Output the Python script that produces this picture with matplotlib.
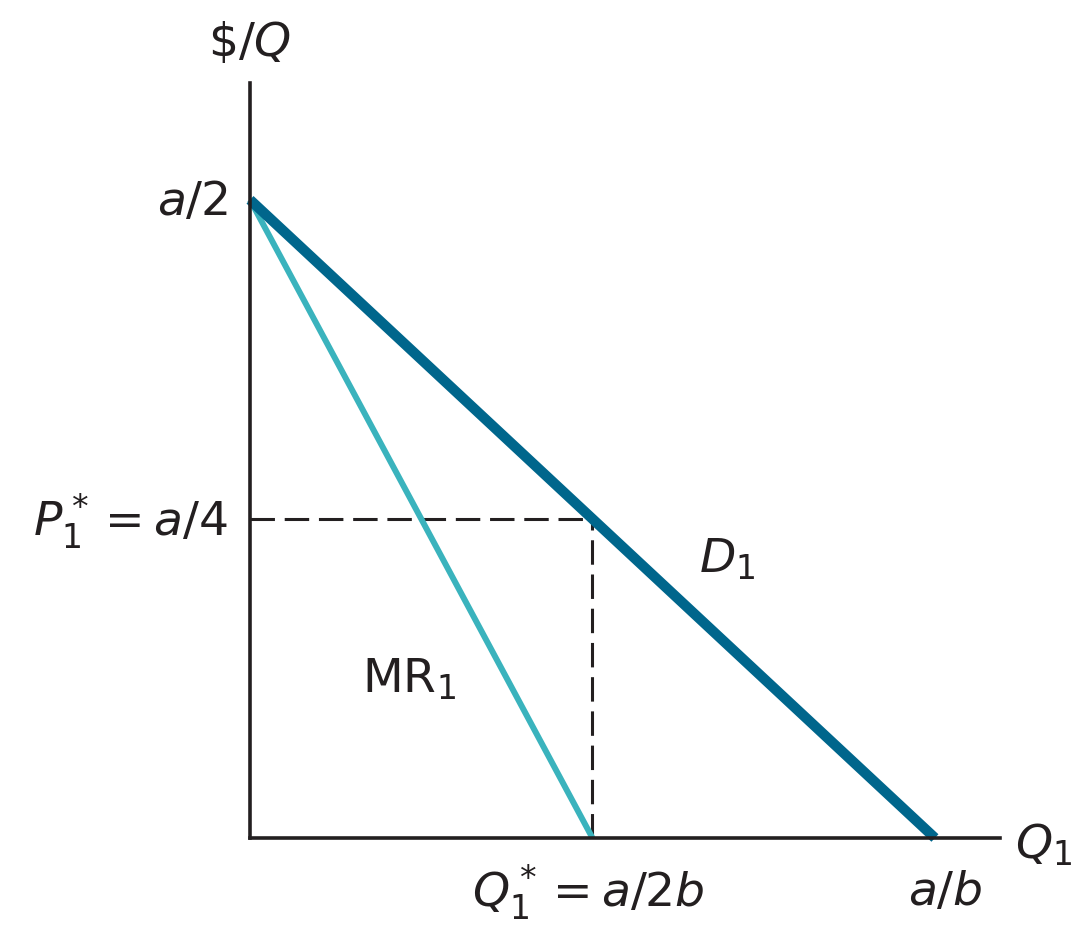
import matplotlib
matplotlib.use("Agg")
import matplotlib.pyplot as plt

plt.rcParams['mathtext.fontset'] = 'dejavusans'
plt.rcParams['mathtext.default'] = 'it'

# demand and marginal revenue (a = 2, b = 1 in axis units)
q_demand = [0, 2]
p_demand = [1, 0]
q_mr = [0, 1]
p_mr = [1, 0]
q_star = 1
p_star = 0.5

fig = plt.figure(figsize=(10.89, 9.30), dpi=100)
ax = fig.add_axes([250 / 1089, 92 / 930, 750 / 1089, 755 / 930])
ax.set_xlim(0, 2.19)
ax.set_ylim(0, 1.183)

for s in ['top', 'right']:
    ax.spines[s].set_visible(False)
for s in ['left', 'bottom']:
    ax.spines[s].set_linewidth(2.6)
    ax.spines[s].set_color('#231f20')
ax.set_xticks([])
ax.set_yticks([])

ax.plot([0, q_star], [p_star, p_star], color='#231f20', lw=2.2,
        dashes=(8, 3.2), clip_on=False)
ax.plot([q_star, q_star], [0, p_star], color='#231f20', lw=2.2,
        dashes=(8, 3.2), clip_on=False)
ax.plot(q_mr, p_mr, color='#3ab3bd', lw=4.3, solid_capstyle='butt', clip_on=False)
ax.plot(q_demand, p_demand, color='#00668c', lw=7.4, solid_capstyle='butt', clip_on=False)

fs = 34
kw = dict(fontsize=fs, color='#231f20', clip_on=False)
ax.text(0.0, 1.245, r'$\$/Q$', ha='center', va='center', **kw)
ax.text(-0.064, 0.995, r'$a/2$', ha='right', va='center', **kw)
ax.text(-0.064, 0.495, r'$P_1^* = a/4$', ha='right', va='center', **kw)
ax.text(0.987, -0.086, r'$Q_1^* = a/2b$', ha='center', va='center', **kw)
ax.text(2.03, -0.086, r'$a/b$', ha='center', va='center', **kw)
ax.text(2.235, -0.011, r'$Q_1$', ha='left', va='center', **kw)
ax.text(1.31, 0.436, r'$D_1$', ha='left', va='center', **kw)
ax.text(0.327, 0.248, r'$\mathrm{MR}_1$', ha='left', va='center', **kw)

fig.savefig('out.png', dpi=100)
